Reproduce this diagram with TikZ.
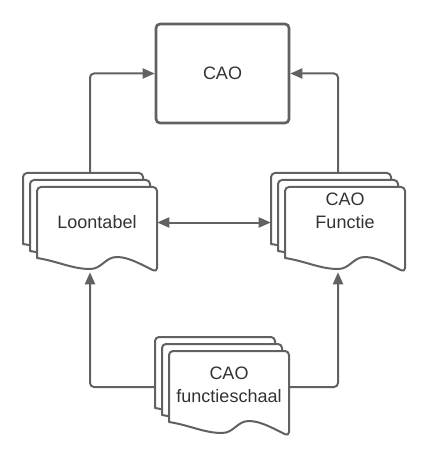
\documentclass[tikz,border=0pt]{standalone}
\usepackage{fontspec}
\setmainfont{Liberation Sans}
\usetikzlibrary{arrows.meta}

\definecolor{lijn}{HTML}{616161}
\definecolor{tekst}{HTML}{333333}

\tikzset{
  pijl/.tip={Triangle[length=9pt,width=7.5pt]},
  blad/.style={draw=lijn, line width=1.5pt, fill=white, line join=round},
  kader/.style={draw=lijn, line width=2pt, rounded corners=3pt, minimum width=99.75pt, minimum height=74.25pt, font=\fontsize{13.5}{17}\selectfont, text=tekst},
  stapelvak/.style={minimum width=100.5pt, minimum height=74.25pt, inner sep=0pt},
  opschrift/.style={font=\fontsize{13.5}{17}\selectfont, text=tekst, align=center, inner sep=0pt},
  verbinding/.style={draw=lijn, line width=1.5pt, rounded corners=3pt, -pijl},
  % drie bladen achter elkaar
  pics/stapel/.style={code={
    \foreach \s in {0,7,14}{
      \draw[blad] (\s,\s+71) [rounded corners=3pt] -- (\s,\s) -- (\s+120,\s) -- (\s+120,\s+85) [sharp corners]
        .. controls (\s+105,\s+78) and (\s+92,\s+70) .. (\s+80,\s+70)
        .. controls (\s+68,\s+70) and (\s+65,\s+82) .. (\s+53,\s+82)
        .. controls (\s+35,\s+82) and (\s+20,\s+74) .. (\s,\s+71) -- cycle;
    }
  }}
}

\begin{document}
\begin{tikzpicture}[x=0.75pt,y=-0.75pt]
	\useasboundingbox (0,0) rectangle (430,459);

	% bovenste kader
	\node[kader] (cao) at (222.5,73.5) {CAO};

	% documentstapels
	\node[stapelvak] (loon) at (90,222.5) {};
	\node[stapelvak] (functie) at (338,222.5) {};
	\node[stapelvak] (schaal) at (222,387) {};
	\pic at (23,173) {stapel};
	\pic at (271,173) {stapel};
	\pic at (155,337) {stapel};

	% teksten
	\node[opschrift] (loontekst) at (97,222) {Loontabel};
	\node[opschrift] (functietekst) at (345,211) {CAO\\Functie};
	\node[opschrift] (schaaltekst) at (229,385) {CAO\\functieschaal};

	% verbindingen
	\draw[verbinding] (loon.north) |- (cao.west);
	\draw[verbinding] (functie.north) |- (cao.east);
	\draw[verbinding, pijl-pijl] (loon.east) -- (functie.west);
	\draw[verbinding] (schaal.west) -| (loon.south);
	\draw[verbinding] (schaal.east) -| (functie.south);
\end{tikzpicture}
\end{document}
